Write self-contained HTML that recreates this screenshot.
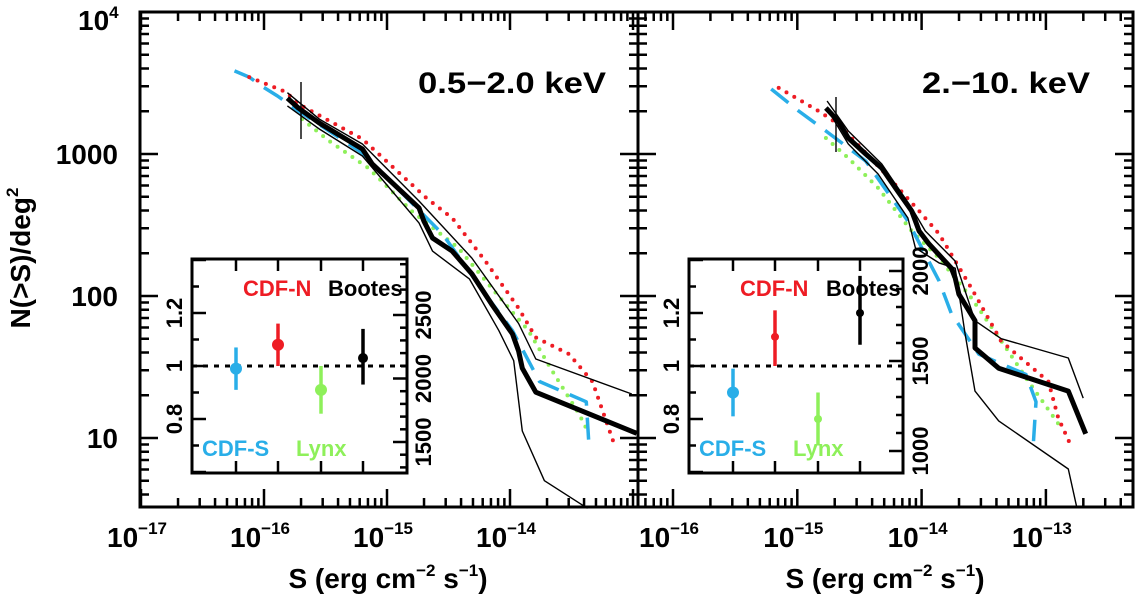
<!DOCTYPE html>
<html><head><meta charset="utf-8"><style>
html,body{margin:0;padding:0;background:#fff;}
svg{display:block;}
text{font-family:"Liberation Sans",sans-serif;font-weight:bold;fill:#000;}
</style></head>
<body>
<svg id="chart" width="1135" height="595" viewBox="0 0 1135 595" xmlns="http://www.w3.org/2000/svg">
<g id="layer"></g>
</svg>
<script>
// ---- Data (log10 S, N per deg^2) ----
// Left panel 0.5-2.0 keV
const softBootesS = [-15.81,-15.72,-15.55,-15.20,-15.12,-14.74,-14.70,-14.63,-14.47,-14.31,-14.15,-13.98,-13.93,-13.90,-13.79,-12.97];
const softBootesN = [2477,2110,1653,1084,851,417,337,256,207,143,88,54,41,31,21,10.8];
const softUpperS = [-15.81,-15.55,-15.20,-14.74,-14.31,-13.93,-13.79,-13.01];
const softUpperN = [2700,1760,1176,467,185,64,36,20.4];
const softLowerS = [-15.81,-15.55,-15.20,-14.74,-14.63,-14.33,-14.09,-13.97,-13.90,-13.72,-13.37];
const softLowerN = [2180,1500,968,327,207,132,57,35,11.2,5,3.2];
const softCdfnS = [-16.12,-15.82,-15.72,-15.20,-14.68,-14.47,-14.20,-13.93,-13.79,-13.52,-13.33,-13.14];
const softCdfnN = [3480,2730,2250,1276,490,354,176,82,51,39,25,8.4];
const softCdfsS = [-16.24,-16.12,-16.02,-15.89,-15.72,-15.20,-14.55,-14.20,-13.98,-13.76,-13.38,-13.36];
const softCdfsN = [3850,3480,3010,2560,2010,1016,274,103,57,25,18,9.5];
const softLynxS = [-15.69,-15.47,-15.15,-14.80,-14.42,-14.15,-13.85,-13.66,-13.44,-13.38];
const softLynxN = [1762,1235,796,397,218,114,57,30,14.8,11.7];
// Right panel 2-10 keV
const hardBootesS = [-14.77,-14.67,-14.59,-14.45,-14.32,-14.21,-14.08,-14.02,-13.94,-13.76,-13.73,-13.70,-13.57,-13.57,-13.38,-12.82,-12.68];
const hardBootesN = [2110,1706,1296,1000,796,577,397,287,232,157,134,103,67,43,31,21.4,10.7];
const hardUpperS = [-14.76,-14.59,-14.32,-14.08,-13.97,-13.73,-13.57,-13.36,-12.82,-12.70];
const hardUpperN = [2360,1452,851,417,287,176,67,50,36.6,19.1];
const hardLowerS = [-14.75,-14.59,-14.35,-14.11,-14.05,-13.86,-13.73,-13.65,-13.57,-13.38,-12.82,-12.75];
const hardLowerN = [2010,1176,723,354,218,171,157,54,21.4,13.2,6.05,3.2];
const hardCdfnS = [-15.15,-14.83,-14.67,-14.29,-14.02,-13.86,-13.60,-13.36,-12.98,-12.90,-12.79];
const hardCdfnN = [2920,2010,1626,723,397,274,114,48,25,13.8,8.5];
const hardCdfsS = [-15.21,-14.99,-14.77,-14.45,-14.11,-13.86,-13.76,-13.54,-13.16,-13.08,-13.10];
const hardCdfsN = [2870,2010,1452,893,337,128,75,39,28,18,9.5];
const hardLynxS = [-14.77,-14.59,-14.35,-14.08,-13.86,-13.60,-13.32,-13.14,-12.90];
const hardLynxN = [1296,937,577,287,185,97,43,25,12.6];
// Insets: ratio values
const insetFields = ["CDF-S","CDF-N","Lynx","Bootes"];
const insetColors = ["#29aee8","#ee1c24","#8ef05a","#000000"];
const softRatio = [0.99,1.08,0.91,1.03];
const softErrLo = [0.91,1.00,0.82,0.93];
const softErrHi = [1.07,1.16,1.00,1.14];
const hardRatio = [0.90,1.11,0.80,1.20];
const hardErrLo = [0.81,1.00,0.70,1.08];
const hardErrHi = [0.99,1.21,0.90,1.34];
const softDotR = [6,6,6,5];
const hardDotR = [6,4,4,4];
const yTickVals = [10,100,1000];
const softXTicks = [-17,-16,-15,-14];
const hardXTicks = [-16,-15,-14,-13];
const softRightTicks = [1500,2000,2500];
const hardRightTicks = [1000,1500,2000];

const NS="http://www.w3.org/2000/svg";
const L=document.getElementById('layer');
function el(tag,attrs,parent){const e=document.createElementNS(NS,tag);for(const k in attrs)e.setAttribute(k,attrs[k]);(parent||L).appendChild(e);return e;}

const yTop=12,yBot=507,yDec=142;
function yScale(n){return yTop+(4-Math.log10(n))*yDec;}
function makeX(x0,l0,dec){return s=>x0+(s-l0)*dec;}
const panels=[
 {name:'soft',left:140,right:638,x:makeX(264,-16,123),ticks:softXTicks,lo:-17.0,hi:-12.96},
 {name:'hard',left:638,right:1133,x:makeX(673,-16,124.3),ticks:hardXTicks,lo:-16.28,hi:-12.3}
];

panels.forEach(p=>{
  const g=el('g',{});
  
  
  const fr=el('rect',{x:p.left,y:yTop,width:p.right-p.left,height:yBot-yTop,fill:'none',stroke:'#000','stroke-width':3},g);
  
  
  for(let d=Math.floor(p.lo);d<=Math.ceil(p.hi);d++){
    for(let m=1;m<10;m++){
      const s=d+Math.log10(m); if(s<p.lo-0.001||s>p.hi)continue;
      const x=p.x(s); if(x<p.left+1||x>p.right-1)continue;
      const len=m===1?18:9;
      el('line',{x1:x,y1:yBot,x2:x,y2:yBot-len,stroke:'#000','stroke-width':2.5},g);
      el('line',{x1:x,y1:yTop,x2:x,y2:yTop+len,stroke:'#000','stroke-width':2.5},g);
    }
  }
  for(let d=0;d<=4;d++){for(let m=1;m<10;m++){
    const n=m*Math.pow(10,d); const y=yScale(n); if(y<yTop||y>yBot)continue;
    const len=m===1?18:9;
    el('line',{x1:p.left,y1:y,x2:p.left+len,y2:y,stroke:'#000','stroke-width':2.5},g);
    el('line',{x1:p.right,y1:y,x2:p.right-len,y2:y,stroke:'#000','stroke-width':2.5},g);
  }}
  p.ticks.forEach(t=>{
    const tx=el('text',{x:p.x(t)-34,y:547,'font-size':28},g);
    
    
    tx.textContent='10';
    const sp=el('tspan',{dy:-13,'font-size':17},tx); sp.textContent='\u2212'+(-t);
  });
  const xl=el('text',{x:p.name==='soft'?388:885,y:588,'font-size':28,'text-anchor':'middle'},g);
  
  
  xl.innerHTML='S (erg cm<tspan dy="-12" font-size="17">\u22122</tspan><tspan dy="12"> s</tspan><tspan dy="-12" font-size="17">\u22121</tspan><tspan dy="12">)</tspan>';
});

yTickVals.forEach(v=>{
  const t=el('text',{x:118,y:yScale(v)+10,'font-size':28,'text-anchor':'end'});
  
  
  t.textContent=String(v);
});
const t4=el('text',{x:78,y:30,'font-size':28});


t4.innerHTML='10<tspan dy="-12" font-size="17">4</tspan>';
const yl=el('text',{x:0,y:0,'font-size':28,'text-anchor':'middle',transform:'translate(30,258) rotate(-90)'});


yl.innerHTML='N(&gt;S)/deg<tspan dy="-12" font-size="17">2</tspan>';

const ti1=el('text',{x:418,y:93,'font-size':30,textLength:188,lengthAdjust:'spacingAndGlyphs'});


ti1.textContent='0.5\u22122.0 keV';
const ti2=el('text',{x:922,y:93,'font-size':30,textLength:168,lengthAdjust:'spacingAndGlyphs'});


ti2.textContent='2.\u221210. keV';

function curve(p,S,N,style,name){
  const pts=S.map((s,i)=>p.x(s).toFixed(1)+','+yScale(N[i]).toFixed(1)).join(' ');
  const c=el('polyline',Object.assign({points:pts,fill:'none','stroke-linejoin':'round'},style));
  
  
}
const sThin={stroke:'#000','stroke-width':1.4};
const sThick={stroke:'#000','stroke-width':5};
const sRed={stroke:'#ee1c24','stroke-width':4,'stroke-dasharray':'0 9','stroke-linecap':'round'};
const sBlue={stroke:'#29aee8','stroke-width':3.5,'stroke-dasharray':'22 12'};
const sGreen={stroke:'#8ef05a','stroke-width':4,'stroke-dasharray':'0 9','stroke-linecap':'round'};
const P0=panels[0],P1=panels[1];
curve(P0,softLynxS,softLynxN,sGreen,'soft-lynx-curve');
curve(P0,softCdfsS,softCdfsN,sBlue,'soft-cdfs-curve');
curve(P0,softCdfnS,softCdfnN,sRed,'soft-cdfn-curve');
curve(P0,softUpperS,softUpperN,sThin,'soft-bootes-upper');
curve(P0,softLowerS,softLowerN,sThin,'soft-bootes-lower');
curve(P0,softBootesS,softBootesN,sThick,'soft-bootes-curve');
curve(P1,hardLynxS,hardLynxN,sGreen,'hard-lynx-curve');
curve(P1,hardCdfsS,hardCdfsN,sBlue,'hard-cdfs-curve');
curve(P1,hardCdfnS,hardCdfnN,sRed,'hard-cdfn-curve');
curve(P1,hardUpperS,hardUpperN,sThin,'hard-bootes-upper');
curve(P1,hardLowerS,hardLowerN,sThin,'hard-bootes-lower');
curve(P1,hardBootesS,hardBootesN,sThick,'hard-bootes-curve');
[[301,82,139],[836,97,152]].forEach(a=>{
  const m=el('line',{x1:a[0],y1:a[1],x2:a[0],y2:a[2],stroke:'#000','stroke-width':1.4});
  
  
});

const insets=[
 {name:'soft',x0:192,x1:407,px:[236,278,321,363],val:softRatio,lo:softErrLo,hi:softErrHi,r:softDotR,
  rt:softRightTicks,rtY:v=>442-(v-1500)*63.5/500,rtX:423,lab:[[243,'CDF-N',1,287],[328,'Bootes',3,287],[202,'CDF-S',0,447],[296,'Lynx',2,447]]},
 {name:'hard',x0:689,x1:903,px:[733,775,818,860],val:hardRatio,lo:hardErrLo,hi:hardErrHi,r:hardDotR,
  rt:hardRightTicks,rtY:v=>451-(v-1000)*90/500,rtX:920,lab:[[740,'CDF-N',1,287],[826,'Bootes',3,287],[699,'CDF-S',0,447],[793,'Lynx',2,447]]}
];
const iy0=259,iy1=473;
function iy(v){return 366-(v-1)*265;}
insets.forEach(s=>{
  const g=el('g',{});
  
  
  el('rect',{x:s.x0,y:iy0,width:s.x1-s.x0,height:iy1-iy0,fill:'#fff',stroke:'#000','stroke-width':3},g);
  s.px.forEach(x=>{
    el('line',{x1:x,y1:iy1,x2:x,y2:iy1-12,stroke:'#000','stroke-width':2.5},g);
    el('line',{x1:x,y1:iy0,x2:x,y2:iy0+12,stroke:'#000','stroke-width':2.5},g);
  });
  for(let k=6;k<=14;k++){
    const v=k/10; const y=iy(v); const maj=(k%2===0);
    el('line',{x1:s.x0,y1:y,x2:s.x0+(maj?14:7),y2:y,stroke:'#000','stroke-width':2.5},g);
  }
  for(let v=1000;v<=3000;v+=100){
    const y=s.rtY(v); if(y<iy0+2||y>iy1-2)continue;
    el('line',{x1:s.x1,y1:y,x2:s.x1-(v%500===0?14:7),y2:y,stroke:'#000','stroke-width':2.5},g);
  }
  [0.8,1,1.2].forEach(v=>{
    const t=el('text',{x:0,y:0,'font-size':22,'text-anchor':'middle',transform:`translate(${s.x0-10},${iy(v)}) rotate(-90)`},g);
    
    
    t.textContent=String(v);
  });
  s.rt.forEach(v=>{
    const t=el('text',{x:0,y:0,'font-size':22,'text-anchor':'middle',transform:`translate(${s.rtX+8},${s.rtY(v)}) rotate(-90)`},g);
    
    
    t.textContent=String(v);
  });
  const ref=el('line',{x1:s.x0,y1:iy(1),x2:s.x1,y2:iy(1),stroke:'#000','stroke-width':3,'stroke-dasharray':'5 6'},g);
  
  
  s.px.forEach((x,i)=>{
    const b=el('line',{x1:x,y1:iy(s.lo[i]),x2:x,y2:iy(s.hi[i]),stroke:insetColors[i],'stroke-width':3.5},g);
    
    
    const c=el('circle',{cx:x,cy:iy(s.val[i]),r:s.r[i],fill:insetColors[i]},g);
    
    
  });
  s.lab.forEach(l=>{
    const t=el('text',{x:l[0],y:l[3]+9,'font-size':22,style:'fill:'+insetColors[l[2]]},g);
    
    
    t.textContent=l[1];
  });
});
</script>
</body></html>
